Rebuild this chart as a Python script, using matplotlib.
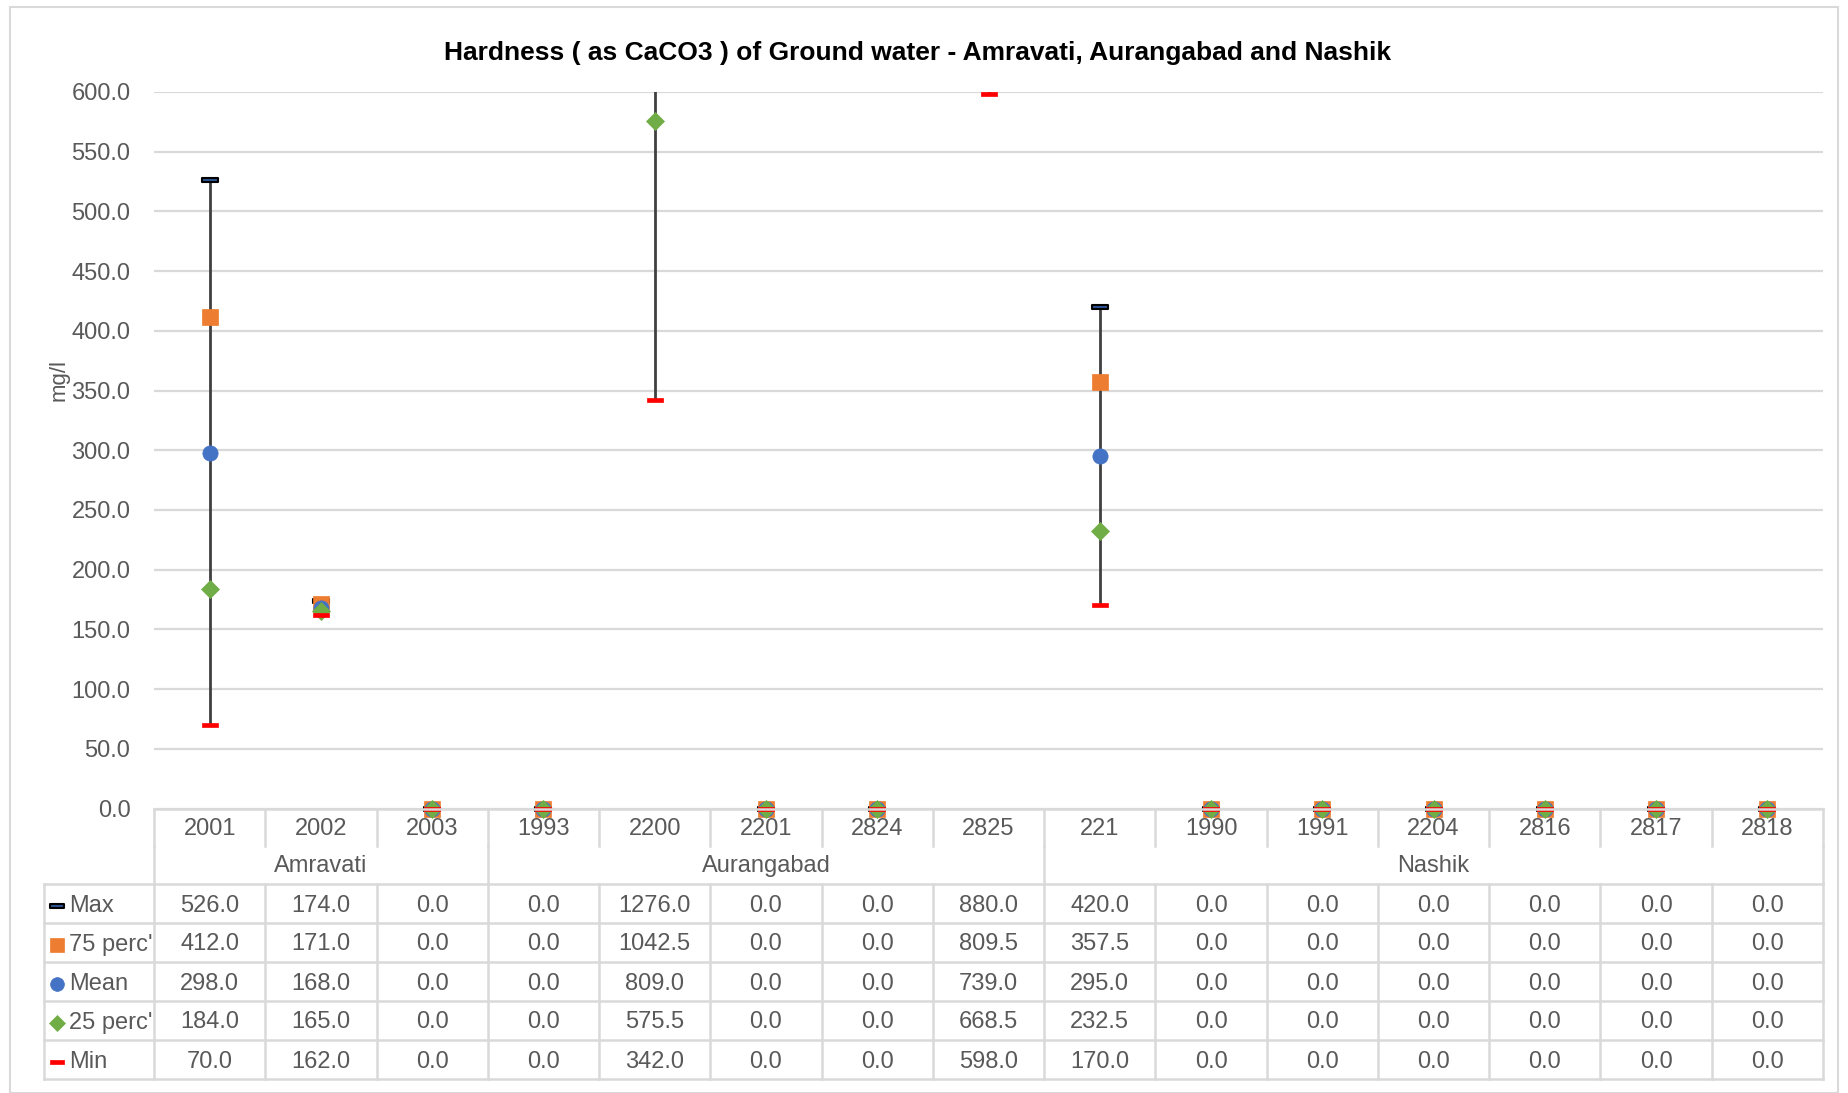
import matplotlib
matplotlib.use("Agg")
import matplotlib.pyplot as plt
from matplotlib.path import Path
from matplotlib.patches import Rectangle
from matplotlib.transforms import blended_transform_factory, Bbox, TransformedBbox
import numpy as np

# data
districts = ["Amravati", "Aurangabad", "Nashik"]
district_sizes = [3, 5, 7]
wells = ["2001", "2002", "2003", "1993", "2200", "2201", "2824", "2825",
         "221", "1990", "1991", "2204", "2816", "2817", "2818"]
max_vals = [526.0, 174.0, 0.0, 0.0, 1276.0, 0.0, 0.0, 880.0, 420.0, 0.0, 0.0, 0.0, 0.0, 0.0, 0.0]
p75_vals = [412.0, 171.0, 0.0, 0.0, 1042.5, 0.0, 0.0, 809.5, 357.5, 0.0, 0.0, 0.0, 0.0, 0.0, 0.0]
mean_vals = [298.0, 168.0, 0.0, 0.0, 809.0, 0.0, 0.0, 739.0, 295.0, 0.0, 0.0, 0.0, 0.0, 0.0, 0.0]
p25_vals = [184.0, 165.0, 0.0, 0.0, 575.5, 0.0, 0.0, 668.5, 232.5, 0.0, 0.0, 0.0, 0.0, 0.0, 0.0]
min_vals = [70.0, 162.0, 0.0, 0.0, 342.0, 0.0, 0.0, 598.0, 170.0, 0.0, 0.0, 0.0, 0.0, 0.0, 0.0]
series_names = ["Max", "75 perc'", "Mean", "25 perc'", "Min"]

plt.rcParams['font.family'] = ['Liberation Sans', 'DejaVu Sans']

W, H = 1848, 1093
TXT = '#595959'
GRID = '#D9D9D9'
FS = 17

fig = plt.figure(figsize=(W / 100, H / 100), dpi=100)
fig.patches.append(Rectangle((10 / W, 0), 1828 / W, 1 - 7 / H, transform=fig.transFigure,
                             fill=False, edgecolor=GRID, linewidth=1.5))

top_px, bot_px, left_px, right_px = 92, 808.5, 154, 1823
ax = fig.add_axes([left_px / W, 1 - bot_px / H, (right_px - left_px) / W, (bot_px - top_px) / H])

x = np.arange(len(wells))

# dash marker (Excel style)
dash = Path([(-1, -0.27), (1, -0.27), (1, 0.27), (-1, 0.27), (-1, -0.27)],
            [Path.MOVETO, Path.LINETO, Path.LINETO, Path.LINETO, Path.CLOSEPOLY])

ax.vlines(x, min_vals, max_vals, color='#404040', linewidth=2, zorder=2)

styles = [
    dict(marker=dash, ms=11, mfc='#2E5597', mec='black', mew=1.5),
    dict(marker='s', ms=11, mfc='#ED7D31', mec='#ED7D31', mew=0.5),
    dict(marker='o', ms=11, mfc='#4472C4', mec='#4472C4', mew=0.5),
    dict(marker='D', ms=9, mfc='#70AD47', mec='#70AD47', mew=0.5),
    dict(marker=dash, ms=11, mfc='#FF0000', mec='#FF0000', mew=0.5),
]
all_vals = [max_vals, p75_vals, mean_vals, p25_vals, min_vals]
clip = TransformedBbox(Bbox([[0, -0.03], [1, 1.006]]), ax.transAxes)
for i, (vals, st) in enumerate(zip(all_vals, styles)):
    ln, = ax.plot(x, vals, linestyle='none', zorder=3 + i, **st)
    ln.set_clip_box(clip)

ax.set_xlim(-0.5, len(wells) - 0.5)
ax.set_ylim(0, 600)
ax.set_yticks(np.arange(0, 601, 50))
ax.set_yticklabels([f"{v:.1f}" for v in np.arange(0, 601, 50)], fontsize=FS, color=TXT)
ax.tick_params(axis='y', length=0, pad=17)
ax.set_xticks([])
ax.grid(axis='y', color=GRID, linewidth=1.6)
ax.set_axisbelow(True)
for s in ax.spines.values():
    s.set_visible(False)

fig.text(59 / W, 1 - 380 / H, "mg/l", rotation=90, ha='center', va='center', fontsize=16, color=TXT)
fig.text(918 / W, 1 - 53 / H,
         "Hardness ( as CaCO3 ) of Ground water - Amravati, Aurangabad and Nashik",
         ha='center', va='center', fontsize=19, fontweight='bold', color='black')

# data table under the axis
tr = blended_transform_factory(ax.transData, fig.transFigure)
ff = fig.transFigure
cat_bot, grp_bot = 846, 884
row_h = 39
rows_top = [grp_bot + k * row_h for k in range(6)]
lw = 1.8
n = len(wells)
edges = np.arange(n + 1) - 0.5


def fy(py):
    return 1 - py / H


# horizontal lines
fig.add_artist(plt.Line2D([-0.5, n - 0.5], [fy(bot_px)] * 2, transform=tr, color=GRID, lw=lw))
for py in rows_top:
    fig.add_artist(plt.Line2D([44 / W, right_px / W], [fy(py)] * 2, transform=ff, color=GRID, lw=lw))
fig.add_artist(plt.Line2D([44 / W] * 2, [fy(grp_bot), fy(rows_top[-1])], transform=ff, color=GRID, lw=lw))

# vertical lines
bounds = np.cumsum([0] + district_sizes) - 0.5
for e in edges:
    fig.add_artist(plt.Line2D([e, e], [fy(bot_px), fy(cat_bot)], transform=tr, color=GRID, lw=lw))
    fig.add_artist(plt.Line2D([e, e], [fy(grp_bot), fy(rows_top[-1])], transform=tr, color=GRID, lw=lw))
for b in bounds:
    fig.add_artist(plt.Line2D([b, b], [fy(cat_bot), fy(grp_bot)], transform=tr, color=GRID, lw=lw))

for i, w in enumerate(wells):
    fig.text(i, fy((bot_px + cat_bot) / 2 + 2), w, transform=tr, ha='center', va='center', fontsize=FS, color=TXT)
start = 0
for d, sz in zip(districts, district_sizes):
    fig.text(start + (sz - 1) / 2, fy((cat_bot + grp_bot) / 2 + 1), d, transform=tr,
             ha='center', va='center', fontsize=FS, color=TXT)
    start += sz

for r, (name, vals, st) in enumerate(zip(series_names, all_vals, styles)):
    yc = fy(rows_top[r] + row_h / 2 + 2)
    for i, v in enumerate(vals):
        fig.text(i, yc, f"{v:.1f}", transform=tr, ha='center', va='center', fontsize=FS, color=TXT)
    key = dict(st)
    key['ms'] = st['ms'] * 0.9
    fig.add_artist(plt.Line2D([57 / W], [yc], transform=ff, linestyle='none', **key))
    fig.text(69 / W, yc, name, transform=ff, ha='left', va='center', fontsize=FS, color=TXT)

fig.savefig("out.png", dpi=100)
